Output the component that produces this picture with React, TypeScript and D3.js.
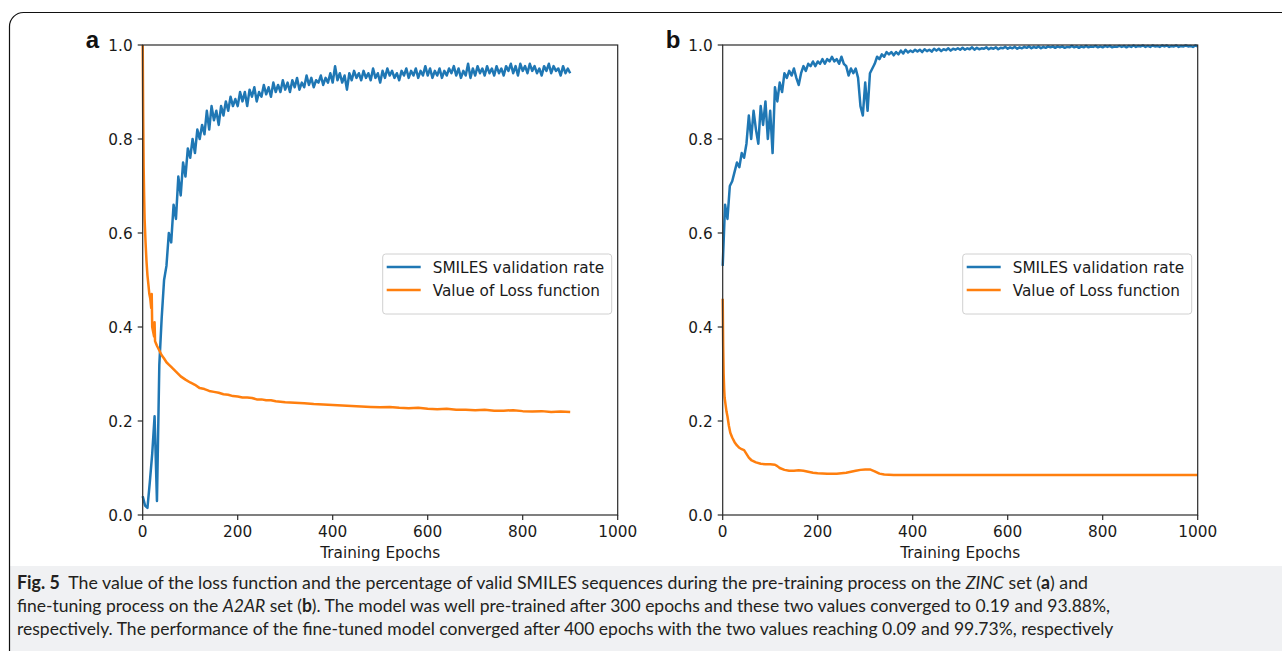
import React, { useLayoutEffect, useRef, useState } from "react";
import * as d3 from "d3";

// ---------- data ----------
const X_TICKS = [0, 200, 400, 600, 800, 1000];
const Y_TICKS = [0, 0.2, 0.4, 0.6, 0.8, 1.0];
const SERIES_NAMES = ["SMILES validation rate", "Value of Loss function"];
const SERIES_COLORS = ["#1f77b4", "#ff7f0e"];
const X_LABEL = "Training Epochs";

// Panel a: SMILES validation rate, sampled every 5 epochs (0..900)
const VALID_A_STEP = 5;
const VALID_A = [
  0.04, 0.02, 0.015, 0.07, 0.13, 0.21, 0.03, 0.32, 0.42, 0.50,
  0.53, 0.60, 0.58, 0.66, 0.63, 0.72, 0.68, 0.75, 0.72, 0.78,
  0.76, 0.80, 0.77, 0.82, 0.80, 0.83, 0.81, 0.86, 0.82, 0.87,
  0.84, 0.86, 0.83, 0.87, 0.85, 0.88, 0.86, 0.89, 0.87, 0.885,
  0.87, 0.90, 0.88, 0.90, 0.87, 0.905, 0.89, 0.91, 0.88, 0.90,
  0.89, 0.915, 0.895, 0.91, 0.89, 0.92, 0.90, 0.915, 0.90, 0.925,
  0.905, 0.92, 0.90, 0.925, 0.91, 0.93, 0.905, 0.92, 0.91, 0.935,
  0.915, 0.93, 0.91, 0.925, 0.92, 0.935, 0.915, 0.93, 0.92, 0.94,
  0.92, 0.955, 0.925, 0.94, 0.92, 0.935, 0.905, 0.94, 0.925, 0.945,
  0.93, 0.94, 0.925, 0.945, 0.93, 0.94, 0.925, 0.95, 0.93, 0.94,
  0.92, 0.945, 0.93, 0.95, 0.935, 0.945, 0.93, 0.94, 0.925, 0.945,
  0.935, 0.95, 0.93, 0.945, 0.935, 0.95, 0.93, 0.945, 0.935, 0.955,
  0.935, 0.95, 0.93, 0.945, 0.935, 0.95, 0.93, 0.945, 0.935, 0.95,
  0.94, 0.955, 0.935, 0.95, 0.93, 0.945, 0.935, 0.96, 0.93, 0.95,
  0.935, 0.955, 0.94, 0.95, 0.935, 0.955, 0.94, 0.95, 0.935, 0.955,
  0.94, 0.95, 0.935, 0.955, 0.945, 0.96, 0.94, 0.955, 0.935, 0.96,
  0.945, 0.955, 0.94, 0.96, 0.945, 0.955, 0.94, 0.95, 0.935, 0.955,
  0.945, 0.96, 0.94, 0.955, 0.945, 0.95, 0.935, 0.955, 0.94, 0.95,
  0.94,
];

// Panel a: loss function
const LOSS_A_EPOCHS = [
  0, 1, 2, 3, 4, 6, 8, 10, 12, 14,
  16, 18, 19, 20, 22, 24, 25, 26, 28, 30,
  35, 40, 45, 50, 55, 60, 70, 80, 90, 100,
  110, 120, 130, 140, 150, 160, 170, 180, 190, 200,
  210, 220, 230, 240, 250, 260, 270, 280, 290, 300,
  320, 340, 360, 380, 400, 420, 440, 460, 480, 500,
  520, 540, 560, 580, 600, 620, 640, 660, 680, 700,
  720, 740, 760, 780, 800, 820, 840, 860, 880, 900,
];
const LOSS_A = [
  1.0, 0.85, 0.74, 0.68, 0.63, 0.58, 0.54, 0.51, 0.49, 0.47,
  0.46, 0.44, 0.47, 0.40, 0.39, 0.38, 0.41, 0.37, 0.365, 0.36,
  0.35, 0.34, 0.333, 0.325, 0.32, 0.315, 0.305, 0.295, 0.288, 0.282,
  0.277, 0.27, 0.268, 0.264, 0.262, 0.26, 0.257, 0.256, 0.253, 0.252,
  0.25, 0.25, 0.249, 0.246, 0.246, 0.244, 0.244, 0.242, 0.241, 0.24,
  0.239, 0.238, 0.236, 0.235, 0.234, 0.233, 0.232, 0.231, 0.23, 0.229,
  0.23, 0.228, 0.227, 0.228, 0.226, 0.225, 0.226, 0.224, 0.224, 0.223,
  0.224, 0.222, 0.222, 0.223, 0.221, 0.22, 0.221, 0.219, 0.22, 0.219,
];

// Panel b: SMILES validation rate, sampled every 5 epochs (0..1000)
const VALID_B_STEP = 5;
const VALID_B = [
  0.53, 0.66, 0.63, 0.70, 0.71, 0.73, 0.75, 0.74, 0.77, 0.76,
  0.79, 0.85, 0.80, 0.86, 0.82, 0.79, 0.87, 0.83, 0.88, 0.80,
  0.86, 0.77, 0.91, 0.88, 0.92, 0.90, 0.94, 0.93, 0.945, 0.935,
  0.95, 0.93, 0.915, 0.94, 0.955, 0.945, 0.96, 0.955, 0.965, 0.955,
  0.965, 0.96, 0.97, 0.96, 0.97, 0.965, 0.975, 0.965, 0.97, 0.96,
  0.975, 0.96, 0.955, 0.935, 0.95, 0.94, 0.95, 0.93, 0.87, 0.85,
  0.92, 0.86, 0.94, 0.95, 0.96, 0.975, 0.97, 0.98, 0.975, 0.985,
  0.98, 0.985, 0.978, 0.985, 0.98, 0.988, 0.982, 0.99, 0.984, 0.988,
  0.985, 0.99, 0.986, 0.99, 0.985, 0.991, 0.987, 0.99, 0.986, 0.992,
  0.988, 0.992, 0.987, 0.991, 0.989, 0.993, 0.988, 0.992, 0.99, 0.993,
  0.99, 0.994, 0.99, 0.993, 0.991, 0.995, 0.99, 0.994, 0.991, 0.993,
  0.992, 0.995, 0.991, 0.994, 0.992, 0.995, 0.991, 0.994, 0.993, 0.996,
  0.992, 0.995, 0.993, 0.996, 0.992, 0.995, 0.993, 0.996, 0.994, 0.997,
  0.993, 0.996, 0.994, 0.997, 0.993, 0.996, 0.994, 0.997, 0.995, 0.997,
  0.994, 0.997, 0.995, 0.997, 0.994, 0.996, 0.995, 0.998, 0.995, 0.997,
  0.994, 0.997, 0.995, 0.998, 0.995, 0.997, 0.996, 0.998, 0.995, 0.997,
  0.995, 0.998, 0.996, 0.998, 0.995, 0.997, 0.996, 0.998, 0.996, 0.998,
  0.995, 0.998, 0.996, 0.999, 0.996, 0.998, 0.997, 0.999, 0.996, 0.998,
  0.996, 0.999, 0.997, 0.998, 0.996, 0.999, 0.997, 0.999, 0.996, 0.998,
  0.997, 0.999, 0.996, 0.998, 0.997, 0.999, 0.997, 0.998, 0.996, 0.999,
  0.997,
];

// Panel b: loss function
const LOSS_B_EPOCHS = [
  0, 1, 2, 3, 4, 6, 8, 10, 13, 16,
  20, 25, 30, 35, 40, 45, 50, 55, 60, 70,
  80, 90, 100, 110, 115, 120, 130, 140, 150, 160,
  170, 180, 190, 200, 220, 240, 260, 270, 280, 290,
  300, 310, 320, 330, 340, 360, 400, 500, 600, 700,
  800, 900, 1000,
];
const LOSS_B = [
  0.46, 0.36, 0.30, 0.27, 0.25, 0.235, 0.22, 0.21, 0.19, 0.175,
  0.165, 0.155, 0.148, 0.143, 0.14, 0.138, 0.13, 0.122, 0.117, 0.112,
  0.109, 0.108, 0.108, 0.107, 0.104, 0.1, 0.096, 0.094, 0.094, 0.095,
  0.094, 0.092, 0.09, 0.089, 0.088, 0.088, 0.09, 0.092, 0.094, 0.096,
  0.097, 0.097, 0.093, 0.088, 0.086, 0.085, 0.085, 0.085, 0.085, 0.085,
  0.085, 0.085, 0.085,
];

// ---------- drawing ----------
const FONT = "'DejaVu Sans', sans-serif";
const FS = 15.3;
const Y_TOP = 45;
const Y_BOTTOM = 515;
const LW = 2.5;

type PanelProps = {
  x0: number;
  x1: number;
  letter: string;
  valid: [number, number][];
  loss: [number, number][];
};

function Panel({ x0, x1, letter, valid, loss }: PanelProps) {
  const x = d3.scaleLinear().domain([0, 1000]).range([x0, x1]);
  const y = d3.scaleLinear().domain([0, 1]).range([Y_BOTTOM, Y_TOP]);
  const line = d3
    .line<[number, number]>()
    .x((d) => x(d[0]))
    .y((d) => y(d[1]));
  const axisColor = "#2a2a2a";
  const legX = x1 - 235;
  const legY = 254;
  return (
    <g>
      <text
        x={x0 - 57}
        y={48}
        fontFamily="'Liberation Sans', Arial, sans-serif"
        fontWeight="bold"
        fontSize={24}
        fill="#111"
      >
        {letter}
      </text>
      <path d={line(valid) || ""} fill="none" stroke={SERIES_COLORS[0]} strokeWidth={LW} strokeLinejoin="round" />
      <path d={line(loss) || ""} fill="none" stroke={SERIES_COLORS[1]} strokeWidth={LW} strokeLinejoin="round" />
      <rect x={x0} y={Y_TOP} width={x1 - x0} height={Y_BOTTOM - Y_TOP} fill="none" stroke={axisColor} strokeWidth={1.2} />
      {Y_TICKS.map((t) => (
        <g key={"y" + t}>
          <line x1={x0 - 5} x2={x0} y1={y(t)} y2={y(t)} stroke={axisColor} strokeWidth={1.2} />
          <text x={x0 - 10} y={y(t)} dy="0.36em" textAnchor="end" fontFamily={FONT} fontSize={FS} fill="#1a1a1a">
            {t.toFixed(1)}
          </text>
        </g>
      ))}
      {X_TICKS.map((t) => (
        <g key={"x" + t}>
          <line x1={x(t)} x2={x(t)} y1={Y_BOTTOM} y2={Y_BOTTOM + 5} stroke={axisColor} strokeWidth={1.2} />
          <text x={x(t)} y={537} textAnchor="middle" fontFamily={FONT} fontSize={FS} fill="#1a1a1a">
            {t}
          </text>
        </g>
      ))}
      <text x={(x0 + x1) / 2} y={558} textAnchor="middle" fontFamily={FONT} fontSize={FS} fill="#1a1a1a">
        {X_LABEL}
      </text>
      <rect x={legX} y={legY} width={229} height={60} rx={3} fill="#fff" fillOpacity={0.85} stroke="#d0d0d0" strokeWidth={1} />
      {SERIES_NAMES.map((name, i) => (
        <g key={name}>
          <line
            x1={legX + 4}
            x2={legX + 38}
            y1={legY + 13 + i * 23}
            y2={legY + 13 + i * 23}
            stroke={SERIES_COLORS[i]}
            strokeWidth={LW}
          />
          <text x={legX + 50} y={legY + 13 + i * 23} dy="0.36em" fontFamily={FONT} fontSize={FS} fill="#1a1a1a">
            {name}
          </text>
        </g>
      ))}
    </g>
  );
}

const CAPTION_X = 17;
const CAPTION_BASELINES = [589, 612, 635];
const CAPTION_WIDTHS = [1071, 1093, 1096];

export default function App() {
  const validA: [number, number][] = VALID_A.map((v, i) => [i * VALID_A_STEP, v]);
  const lossA: [number, number][] = LOSS_A.map((v, i) => [LOSS_A_EPOCHS[i], v]);
  const validB: [number, number][] = VALID_B.map((v, i) => [i * VALID_B_STEP, v]);
  const lossB: [number, number][] = LOSS_B.map((v, i) => [LOSS_B_EPOCHS[i], v]);
  const capFont = "Lato, 'Open Sans', sans-serif";
  const capColor = "#231f20";

  const refs = useRef<(SVGTextElement | null)[]>([]);
  const [scales, setScales] = useState<number[]>([0.9, 0.9, 0.9]);
  useLayoutEffect(() => {
    const s = refs.current.map((el, i) => {
      if (!el) return 0.9;
      const w = el.getBBox().width;
      return w > 0 ? CAPTION_WIDTHS[i] / w : 0.9;
    });
    setScales(s);
  }, []);

  const lines: React.ReactNode[] = [
    <>
      <tspan fontWeight="bold">Fig. 5</tspan>
      <tspan>{"\u00a0 The value of the loss function and the percentage of valid SMILES sequences during the pre-training process on the "}</tspan>
      <tspan fontStyle="italic">ZINC</tspan>
      <tspan>{" set ("}</tspan>
      <tspan fontWeight="bold">a</tspan>
      <tspan>{") and"}</tspan>
    </>,
    <>
      <tspan>{"fine-tuning process on the "}</tspan>
      <tspan fontStyle="italic">A2AR</tspan>
      <tspan>{" set ("}</tspan>
      <tspan fontWeight="bold">b</tspan>
      <tspan>{"). The model was well pre-trained after 300 epochs and these two values converged to 0.19 and 93.88%,"}</tspan>
    </>,
    <>
      {"respectively. The performance of the fine-tuned model converged after 400 epochs with the two values reaching 0.09 and 99.73%, respectively"}
    </>,
  ];

  return (
    <svg
      width={1282}
      height={651}
      style={{ position: "absolute", left: 0, top: 0, background: "#fff" }}
    >
      <rect x={0} y={0} width={1282} height={651} fill="#fff" />
      <rect x={9.5} y={566} width={1290} height={100} fill="#f0f1f3" />
      <rect x={9.5} y={12.5} width={1300} height={700} rx={14} fill="none" stroke="#111" strokeWidth={1.2} />
      <Panel x0={142.7} x1={617.7} letter="a" valid={validA} loss={lossA} />
      <Panel x0={722.7} x1={1197.7} letter="b" valid={validB} loss={lossB} />
      <g fontFamily={capFont} fontSize={18} fill={capColor}>
        {lines.map((content, i) => (
          <text
            key={i}
            ref={(el) => {
              refs.current[i] = el;
            }}
            x={0}
            y={0}
            transform={`translate(${CAPTION_X},${CAPTION_BASELINES[i]}) scale(${scales[i]},1)`}
          >
            {content}
          </text>
        ))}
      </g>
    </svg>
  );
}
